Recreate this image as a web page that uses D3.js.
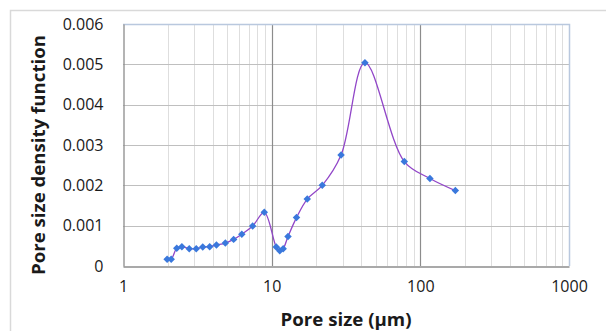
<!DOCTYPE html>
<html>
<head>
<meta charset="utf-8">
<title>Pore size density function</title>
<style>
  html, body { margin: 0; padding: 0; background: #fff; }
  svg { display: block; }
  text { font-family: "Open Sans", "Noto Sans", sans-serif; }
</style>
</head>
<body>
<main></main>
<script src="https://cdn.jsdelivr.net/npm/d3@7"></script>
<script>
// data
var poreSize = [1.98, 2.11, 2.30, 2.49, 2.79, 3.11, 3.44, 3.83, 4.25, 4.88, 5.55, 6.30, 7.45, 8.92,
                10.74, 11.33, 11.95, 12.88, 14.69, 17.35, 21.9, 29.3, 42.4, 78, 116, 172];
var density = [0.00017, 0.00017, 0.00044, 0.00048, 0.00043, 0.00043, 0.00047, 0.00048, 0.00052, 0.00057,
               0.00066, 0.00079, 0.00099, 0.00133, 0.00047, 0.00038, 0.00043, 0.00073, 0.0012, 0.00166,
               0.0020, 0.00275, 0.00504, 0.00259, 0.00217, 0.00187];
var xTicks = [1, 10, 100, 1000];
var yTicks = [0, 0.001, 0.002, 0.003, 0.004, 0.005, 0.006];
var xTitle = "Pore size (μm)";
var yTitle = "Pore size density function";

// layout
var width = 606, height = 331;
var plot = {left: 123, right: 569, top: 24, bottom: 266};

var svg = d3.select("main").append("svg")
    .attr("width", width)
    .attr("height", height);

// outer chart frame
svg.append("rect")
    .attr("x", 10.5).attr("y", 10.5)
    .attr("width", width + 20).attr("height", height + 20)
    .attr("fill", "none")
    .attr("stroke", "#d9d9d9")
    .attr("stroke-width", 1.5);

var x = d3.scaleLog().domain([1, 1000]).range([plot.left, plot.right]);
var y = d3.scaleLinear().domain([0, 0.006]).range([plot.bottom, plot.top]);

// minor vertical grid (2..9 per decade)
var minor = [];
[1, 10, 100].forEach(function (d) {
    for (var k = 2; k <= 9; k++) minor.push(d * k);
});
svg.append("g").selectAll("line")
    .data(minor).enter().append("line")
    .attr("x1", function (d) { return Math.round(x(d)) + 0.5; })
    .attr("x2", function (d) { return Math.round(x(d)) + 0.5; })
    .attr("y1", plot.top).attr("y2", plot.bottom)
    .attr("stroke", "#dedede").attr("stroke-width", 1);

// horizontal grid
svg.append("g").selectAll("line")
    .data(yTicks.slice(1, -1)).enter().append("line")
    .attr("x1", plot.left).attr("x2", plot.right)
    .attr("y1", function (d) { return Math.round(y(d)) + 0.5; })
    .attr("y2", function (d) { return Math.round(y(d)) + 0.5; })
    .attr("stroke", "#bfbfbf").attr("stroke-width", 1.2);

// major vertical grid
svg.append("g").selectAll("line")
    .data([10, 100]).enter().append("line")
    .attr("x1", function (d) { return Math.round(x(d)) + 0.5; })
    .attr("x2", function (d) { return Math.round(x(d)) + 0.5; })
    .attr("y1", plot.top).attr("y2", plot.bottom)
    .attr("stroke", "#8c8c8c").attr("stroke-width", 1.2);

// plot area border (top / right bluish)
svg.append("path")
    .attr("d", "M" + plot.left + "," + (plot.top + 0.5) + "H" + (plot.right + 0.5) + "V" + plot.bottom)
    .attr("fill", "none")
    .attr("stroke", "#b9c8de").attr("stroke-width", 1.5);

// axes
var xAxis = svg.append("g")
    .attr("transform", "translate(0," + (plot.bottom + 0.5) + ")")
    .call(d3.axisBottom(x).tickValues(xTicks).tickSize(0).tickPadding(14).tickFormat(d3.format("d")));
var yAxis = svg.append("g")
    .attr("transform", "translate(" + (plot.left + 0.5) + ",0)")
    .call(d3.axisLeft(y).tickValues(yTicks).tickSize(0).tickPadding(20)
        .tickFormat(function (d) { return d === 0 ? "0" : d3.format(".3f")(d); }));

[xAxis, yAxis].forEach(function (g) {
    g.select(".domain").attr("stroke", "#8c8c8c").attr("stroke-width", 1.3);
    g.selectAll("text")
        .attr("fill", "#1a1a1a")
        .style("font-size", "16px")
        .style("font-family", "'Open Sans', sans-serif");
});

// series line (smoothed)
var pts = poreSize.map(function (d, i) { return [x(d), y(density[i])]; });
svg.append("path")
    .datum(pts)
    .attr("d", d3.line().curve(d3.curveCatmullRom.alpha(0.5)))
    .attr("fill", "none")
    .attr("stroke", "#9146c8")
    .attr("stroke-width", 1.3);

// diamond markers
svg.append("g").selectAll("path")
    .data(pts).enter().append("path")
    .attr("d", d3.symbol(d3.symbolSquare, 28))
    .attr("transform", function (d) { return "translate(" + d[0] + "," + d[1] + ") rotate(45)"; })
    .attr("fill", "#3a78dc");

// axis titles
svg.append("text")
    .attr("x", 346).attr("y", 326)
    .attr("text-anchor", "middle")
    .attr("font-weight", "bold")
    .attr("font-size", 17)
    .attr("textLength", 131).attr("lengthAdjust", "spacingAndGlyphs")
    .attr("fill", "#1a1a1a")
    .text(xTitle);

svg.append("text")
    .attr("transform", "translate(45,155) rotate(-90)")
    .attr("text-anchor", "middle")
    .attr("font-weight", "bold")
    .attr("font-size", 18)
    .attr("textLength", 240).attr("lengthAdjust", "spacingAndGlyphs")
    .attr("fill", "#1a1a1a")
    .text(yTitle);
</script>
</body>
</html>
